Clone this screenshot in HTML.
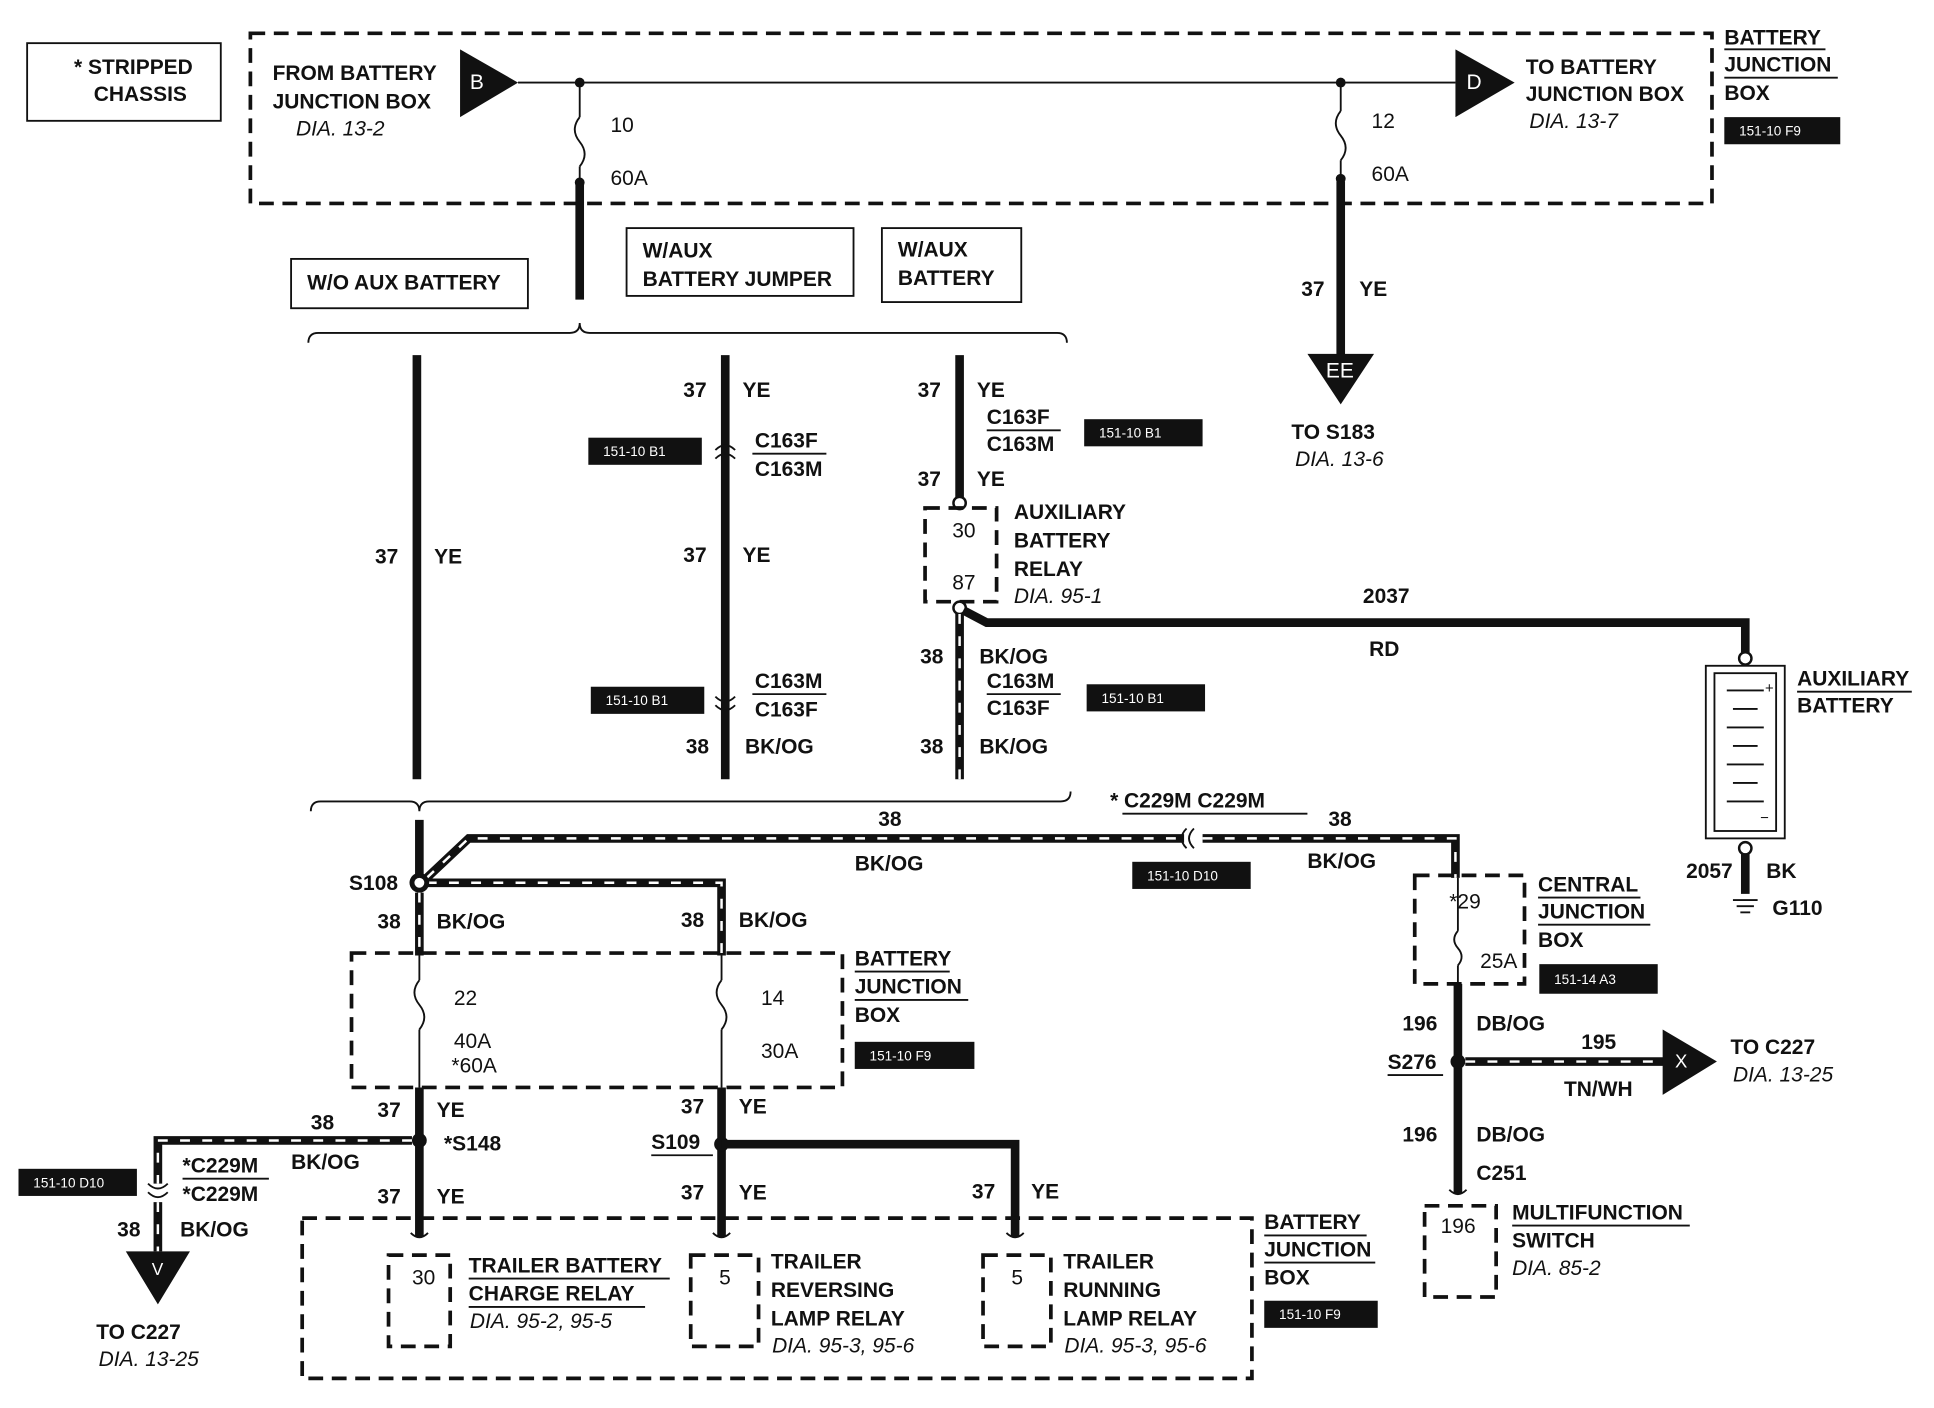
<!DOCTYPE html>
<html><head><meta charset="utf-8"><style>
html,body{margin:0;padding:0;background:#fff}
svg{display:block}
text{font-family:"Liberation Sans",sans-serif;font-size:17px;font-weight:bold;fill:#111}
.i{font-style:italic;font-weight:normal}
.n{font-weight:normal}
.lb{font-size:11px;font-weight:normal;fill:#fff}
.w{stroke:#111;stroke-width:7;fill:none}
.t{stroke:#111;stroke-width:1.5;fill:none}
.d{stroke:#111;stroke-width:3;fill:none;stroke-dasharray:12 7}
.bo{stroke:#fff;stroke-width:2;fill:none;stroke-dasharray:8 10}
</style></head><body>
<svg width="1934" height="1408" viewBox="0 0 1568 1142" preserveAspectRatio="none" xmlns="http://www.w3.org/2000/svg">
<rect x="22" y="35" width="157" height="63" class="t" stroke-width="2"/>
<text x="60" y="60">* STRIPPED</text><text x="76" y="82">CHASSIS</text>
<rect x="203" y="27" width="1185" height="138" class="d"/>
<text x="221" y="65">FROM BATTERY</text><text x="221" y="88">JUNCTION BOX</text><text x="240" y="110" class="i">DIA. 13-2</text>
<polygon points="373,40 373,95 420,67" fill="#111"/><text x="381" y="72" fill="#fff" style="fill:#fff" class="n">B</text>
<line x1="420" y1="67" x2="1180" y2="67" class="t"/>
<polygon points="1180,40 1180,95 1228,67" fill="#111"/><text x="1189" y="72" style="fill:#fff" class="n">D</text>
<text x="1237" y="60">TO BATTERY</text><text x="1237" y="82">JUNCTION BOX</text><text x="1240" y="104" class="i">DIA. 13-7</text>
<text x="1398" y="36">BATTERY</text><text x="1398" y="58">JUNCTION</text><text x="1398" y="81">BOX</text>
<line x1="1398" y1="40" x2="1480" y2="40" class="t"/><line x1="1398" y1="63" x2="1490" y2="63" class="t"/>
<rect x="1398" y="95" width="94" height="22" fill="#111"/><text x="1410" y="110" class="lb">151-10 F9</text>
<!-- fuse 10 -->
<circle cx="470" cy="67" r="4" fill="#111"/><line x1="470" y1="67" x2="470" y2="95" class="t"/>
<path d="M470,95 q-8,10 0,20 q8,10 0,20" class="t"/><line x1="470" y1="135" x2="470" y2="148" class="t"/>
<circle cx="470" cy="148" r="4" fill="#111"/>
<text x="495" y="107" class="n">10</text><text x="495" y="150" class="n">60A</text>
<line x1="470" y1="150" x2="470" y2="243" class="w"/>
<!-- fuse 12 -->
<circle cx="1087" cy="67" r="4" fill="#111"/><line x1="1087" y1="67" x2="1087" y2="90" class="t"/>
<path d="M1087,90 q-8,10 0,20 q8,10 0,20" class="t"/><line x1="1087" y1="130" x2="1087" y2="145" class="t"/>
<circle cx="1087" cy="145" r="4" fill="#111"/>
<text x="1112" y="104" class="n">12</text><text x="1112" y="147" class="n">60A</text>
<line x1="1087" y1="147" x2="1087" y2="290" class="w"/>
<text x="1055" y="240">37</text><text x="1102" y="240">YE</text>
<polygon points="1060,287 1114,287 1087,328" fill="#111"/><text x="1075" y="306" style="fill:#fff" class="n">EE</text>
<text x="1047" y="356">TO S183</text><text x="1050" y="378" class="i">DIA. 13-6</text>
<!-- option boxes -->
<rect x="236" y="210" width="192" height="40" class="t" stroke-width="2"/><text x="249" y="235">W/O AUX BATTERY</text>
<rect x="508" y="185" width="184" height="55" class="t" stroke-width="2"/><text x="521" y="209">W/AUX</text><text x="521" y="232">BATTERY JUMPER</text>
<rect x="715" y="185" width="113" height="60" class="t" stroke-width="2"/><text x="728" y="208">W/AUX</text><text x="728" y="231">BATTERY</text>
<!-- top brace -->
<path d="M250,278 q0,-8 8,-8 L462,270 q8,0 8,-8 q0,8 8,8 L857,270 q8,0 8,8" class="t" stroke-width="2"/>
<!-- columns -->
<line x1="338" y1="288" x2="338" y2="632" class="w"/>
<text x="304" y="457">37</text><text x="352" y="457">YE</text>
<line x1="588" y1="288" x2="588" y2="632" class="w"/>
<text x="554" y="322">37</text><text x="602" y="322">YE</text>
<path d="M580,365 q8,-8 16,0 M580,372 q8,-8 16,0" class="t" stroke-width="2.5"/>
<text x="612" y="363">C163F</text><text x="612" y="386">C163M</text><line x1="610" y1="368" x2="670" y2="368" class="t"/>
<rect x="477" y="355" width="92" height="22" fill="#111"/><text x="489" y="370" class="lb">151-10 B1</text>
<text x="554" y="456">37</text><text x="602" y="456">YE</text>
<path d="M580,565 q8,8 16,0 M580,572 q8,8 16,0" class="t" stroke-width="2.5"/>
<text x="612" y="558">C163M</text><text x="612" y="581">C163F</text><line x1="610" y1="563" x2="670" y2="563" class="t"/>
<rect x="479" y="557" width="92" height="22" fill="#111"/><text x="491" y="572" class="lb">151-10 B1</text>
<text x="556" y="611">38</text><text x="604" y="611">BK/OG</text>
<line x1="778" y1="288" x2="778" y2="405" class="w"/>
<text x="744" y="322">37</text><text x="792" y="322">YE</text>
<text x="800" y="344">C163F</text><text x="800" y="366">C163M</text><line x1="800" y1="349" x2="860" y2="349" class="t"/>
<rect x="879" y="340" width="96" height="22" fill="#111"/><text x="891" y="355" class="lb">151-10 B1</text>
<text x="744" y="394">37</text><text x="792" y="394">YE</text>
<circle cx="778" cy="408" r="5" fill="#fff" stroke="#111" stroke-width="2"/>
<rect x="750" y="412" width="58" height="76" class="d" stroke-width="2.5"/>
<text x="772" y="436" class="n">30</text><text x="772" y="478" class="n">87</text>
<text x="822" y="421">AUXILIARY</text><text x="822" y="444">BATTERY</text><text x="822" y="467">RELAY</text><text x="822" y="489" class="i">DIA. 95-1</text>
<circle cx="778" cy="493" r="5" fill="#fff" stroke="#111" stroke-width="2"/>
<path d="M781,495 L800,505 L1415,505 L1415,530" class="w"/>
<text x="1105" y="489">2037</text><text x="1110" y="532">RD</text>
<line x1="778" y1="498" x2="778" y2="632" class="w"/><line x1="778" y1="498" x2="778" y2="632" class="bo"/>
<text x="746" y="538">38</text><text x="794" y="538">BK/OG</text>
<text x="800" y="558">C163M</text><text x="800" y="580">C163F</text><line x1="800" y1="563" x2="860" y2="563" class="t"/>
<rect x="881" y="555" width="96" height="22" fill="#111"/><text x="893" y="570" class="lb">151-10 B1</text>
<text x="746" y="611">38</text><text x="794" y="611">BK/OG</text>
<!-- aux battery -->
<circle cx="1415" cy="534" r="5" fill="#fff" stroke="#111" stroke-width="2"/>
<rect x="1383" y="540" width="64" height="140" class="t" stroke-width="2.5"/>
<rect x="1390" y="546" width="50" height="128" class="t"/>
<g class="t"><line x1="1400" y1="560" x2="1430" y2="560"/><line x1="1405" y1="575" x2="1425" y2="575"/><line x1="1400" y1="590" x2="1430" y2="590"/><line x1="1405" y1="605" x2="1425" y2="605"/><line x1="1400" y1="620" x2="1430" y2="620"/><line x1="1405" y1="635" x2="1425" y2="635"/><line x1="1400" y1="650" x2="1430" y2="650"/></g>
<text x="1431" y="562" class="n" style="font-size:12px">+</text><text x="1427" y="667" class="n" style="font-size:12px">−</text>
<text x="1457" y="556">AUXILIARY</text><text x="1457" y="578">BATTERY</text>
<line x1="1457" y1="561" x2="1550" y2="561" class="t"/>
<circle cx="1415" cy="688" r="5" fill="#fff" stroke="#111" stroke-width="2"/>
<line x1="1415" y1="693" x2="1415" y2="725" class="w"/>
<text x="1367" y="712">2057</text><text x="1432" y="712">BK</text>
<g class="t" stroke-width="2"><line x1="1405" y1="730" x2="1425" y2="730"/><line x1="1408" y1="735" x2="1422" y2="735"/><line x1="1411" y1="740" x2="1419" y2="740"/></g>
<text x="1437" y="742">G110</text>
<!-- bottom brace -->
<path d="M252,658 q0,-8 8,-8 L332,650 q8,0 8,8 q0,-8 8,-8 L860,650 q8,0 8,-8" class="t" stroke-width="2"/>
<line x1="340" y1="665" x2="340" y2="712" class="w"/>
<!-- BK/OG wires -->
<path d="M346,712 L380,680 L960,680 M975,680 L1180,680 L1180,712" class="w"/>
<path d="M346,712 L380,680 L960,680 M975,680 L1180,680 L1180,712" class="bo"/>
<path d="M962,672 q-8,8 0,16 M968,672 q-8,8 0,16" class="t" stroke-width="2.5"/>
<text x="712" y="670">38</text><text x="693" y="706">BK/OG</text>
<text x="900" y="655">* C229M C229M</text><line x1="910" y1="660" x2="1060" y2="660" class="t"/>
<text x="1077" y="670">38</text><text x="1060" y="704">BK/OG</text>
<rect x="918" y="699" width="96" height="22" fill="#111"/><text x="930" y="714" class="lb">151-10 D10</text>
<path d="M346,716 L585,716 L585,775" class="w"/><path d="M346,716 L585,716 L585,775" class="bo"/>
<circle cx="340" cy="716" r="8" fill="#111"/><circle cx="340" cy="716" r="4" fill="#fff"/>
<text x="283" y="722">S108</text>
<line x1="340" y1="724" x2="340" y2="775" class="w"/><line x1="340" y1="724" x2="340" y2="775" class="bo"/>
<text x="306" y="753">38</text><text x="354" y="753">BK/OG</text>
<text x="552" y="752">38</text><text x="599" y="752">BK/OG</text>
<!-- battery junction box middle -->
<rect x="285" y="773" width="398" height="109" class="d"/>
<line x1="340" y1="775" x2="340" y2="795" class="t"/><path d="M340,795 q-8,10 0,20 q8,10 0,20" class="t"/><line x1="340" y1="835" x2="340" y2="882" class="t"/>
<line x1="585" y1="775" x2="585" y2="795" class="t"/><path d="M585,795 q-8,10 0,20 q8,10 0,20" class="t"/><line x1="585" y1="835" x2="585" y2="882" class="t"/>
<text x="368" y="815" class="n">22</text><text x="368" y="850" class="n">40A</text><text x="366" y="870" class="n">*60A</text>
<text x="617" y="815" class="n">14</text><text x="617" y="858" class="n">30A</text>
<text x="693" y="783">BATTERY</text><text x="693" y="806">JUNCTION</text><text x="693" y="829">BOX</text>
<line x1="693" y1="788" x2="770" y2="788" class="t"/><line x1="693" y1="811" x2="785" y2="811" class="t"/>
<rect x="693" y="845" width="97" height="22" fill="#111"/><text x="705" y="860" class="lb">151-10 F9</text>
<line x1="340" y1="882" x2="340" y2="1003" class="w"/>
<line x1="585" y1="882" x2="585" y2="1003" class="w"/>
<text x="306" y="906">37</text><text x="354" y="906">YE</text>
<text x="552" y="903">37</text><text x="599" y="903">YE</text>
<circle cx="340" cy="925" r="6" fill="#111"/><text x="360" y="933">*S148</text>
<path d="M334,925 L128,925 L128,960" class="w"/><path d="M334,925 L128,925 L128,960" class="bo"/>
<text x="252" y="916">38</text><text x="236" y="948">BK/OG</text>
<text x="148" y="951">*C229M</text><text x="148" y="974">*C229M</text><line x1="148" y1="956" x2="218" y2="956" class="t"/>
<rect x="15" y="948" width="96" height="22" fill="#111"/><text x="27" y="963" class="lb">151-10 D10</text>
<path d="M120,960 q8,8 16,0 M120,967 q8,8 16,0" class="t" stroke-width="2.5"/>
<line x1="128" y1="975" x2="128" y2="1015" class="w"/><line x1="128" y1="975" x2="128" y2="1015" class="bo"/>
<text x="95" y="1003">38</text><text x="146" y="1003">BK/OG</text>
<polygon points="102,1015 154,1015 128,1058" fill="#111"/><text x="123" y="1034" style="fill:#fff;font-size:14px" class="n">V</text>
<text x="78" y="1086">TO C227</text><text x="80" y="1108" class="i">DIA. 13-25</text>
<text x="306" y="976">37</text><text x="354" y="976">YE</text>
<circle cx="585" cy="928" r="6" fill="#111"/><text x="528" y="932">S109</text><line x1="528" y1="937" x2="578" y2="937" class="t"/>
<path d="M585,928 L823,928 L823,1003" class="w"/>
<text x="552" y="973">37</text><text x="599" y="973">YE</text>
<text x="788" y="972">37</text><text x="836" y="972">YE</text>
<!-- bottom box -->
<rect x="245" y="988" width="770" height="130" class="d"/>
<path d="M333,1000 q7,7 14,0 M578,1000 q7,7 14,0 M816,1000 q7,7 14,0" class="t" stroke-width="2.5"/>
<rect x="315" y="1018" width="50" height="74" class="d" stroke-width="2.5"/><text x="334" y="1042" class="n">30</text>
<text x="380" y="1032">TRAILER BATTERY</text><text x="380" y="1055">CHARGE RELAY</text><text x="381" y="1077" class="i">DIA. 95-2, 95-5</text>
<line x1="380" y1="1037" x2="543" y2="1037" class="t"/><line x1="380" y1="1060" x2="523" y2="1060" class="t"/>
<rect x="560" y="1018" width="55" height="74" class="d" stroke-width="2.5"/><text x="583" y="1042" class="n">5</text>
<text x="625" y="1029">TRAILER</text><text x="625" y="1052">REVERSING</text><text x="625" y="1075">LAMP RELAY</text><text x="626" y="1097" class="i">DIA. 95-3, 95-6</text>
<rect x="797" y="1018" width="55" height="74" class="d" stroke-width="2.5"/><text x="820" y="1042" class="n">5</text>
<text x="862" y="1029">TRAILER</text><text x="862" y="1052">RUNNING</text><text x="862" y="1075">LAMP RELAY</text><text x="863" y="1097" class="i">DIA. 95-3, 95-6</text>
<text x="1025" y="997">BATTERY</text><text x="1025" y="1019">JUNCTION</text><text x="1025" y="1042">BOX</text>
<line x1="1025" y1="1002" x2="1108" y2="1002" class="t"/><line x1="1025" y1="1024" x2="1115" y2="1024" class="t"/>
<rect x="1025" y="1055" width="92" height="22" fill="#111"/><text x="1037" y="1070" class="lb">151-10 F9</text>
<!-- central junction box -->
<rect x="1147" y="710" width="89" height="88" class="d" stroke-width="2.5"/>
<line x1="1182" y1="712" x2="1182" y2="755" class="t"/><path d="M1182,755 q-6,7 0,14 q6,7 0,14" class="t"/><line x1="1182" y1="783" x2="1182" y2="798" class="t"/>
<text x="1175" y="737" class="n">*29</text><text x="1200" y="785" class="n">25A</text>
<text x="1247" y="723">CENTRAL</text><text x="1247" y="745">JUNCTION</text><text x="1247" y="768">BOX</text>
<line x1="1247" y1="728" x2="1330" y2="728" class="t"/><line x1="1247" y1="750" x2="1338" y2="750" class="t"/>
<rect x="1248" y="782" width="96" height="24" fill="#111"/><text x="1260" y="798" class="lb">151-14 A3</text>
<line x1="1182" y1="798" x2="1182" y2="968" class="w"/>
<text x="1137" y="836">196</text><text x="1197" y="836">DB/OG</text>
<circle cx="1182" cy="861" r="6" fill="#111"/><text x="1125" y="867">S276</text><line x1="1125" y1="872" x2="1170" y2="872" class="t"/>
<line x1="1188" y1="861" x2="1350" y2="861" class="w"/><line x1="1188" y1="861" x2="1350" y2="861" class="bo"/>
<text x="1282" y="851">195</text><text x="1268" y="889">TN/WH</text>
<polygon points="1348,835 1348,888 1392,861" fill="#111"/><text x="1358" y="866" style="fill:#fff;font-size:15px" class="n">X</text>
<text x="1403" y="855">TO C227</text><text x="1405" y="877" class="i">DIA. 13-25</text>
<text x="1137" y="926">196</text><text x="1197" y="926">DB/OG</text>
<text x="1197" y="957">C251</text>
<path d="M1175,965 q7,7 14,0" class="t" stroke-width="2.5"/>
<rect x="1155" y="978" width="58" height="74" class="d" stroke-width="2.5"/><text x="1168" y="1000" class="n">196</text>
<text x="1226" y="989">MULTIFUNCTION</text><text x="1226" y="1012">SWITCH</text><text x="1226" y="1034" class="i">DIA. 85-2</text>
<line x1="1226" y1="994" x2="1370" y2="994" class="t"/>
</svg>
</body></html>
